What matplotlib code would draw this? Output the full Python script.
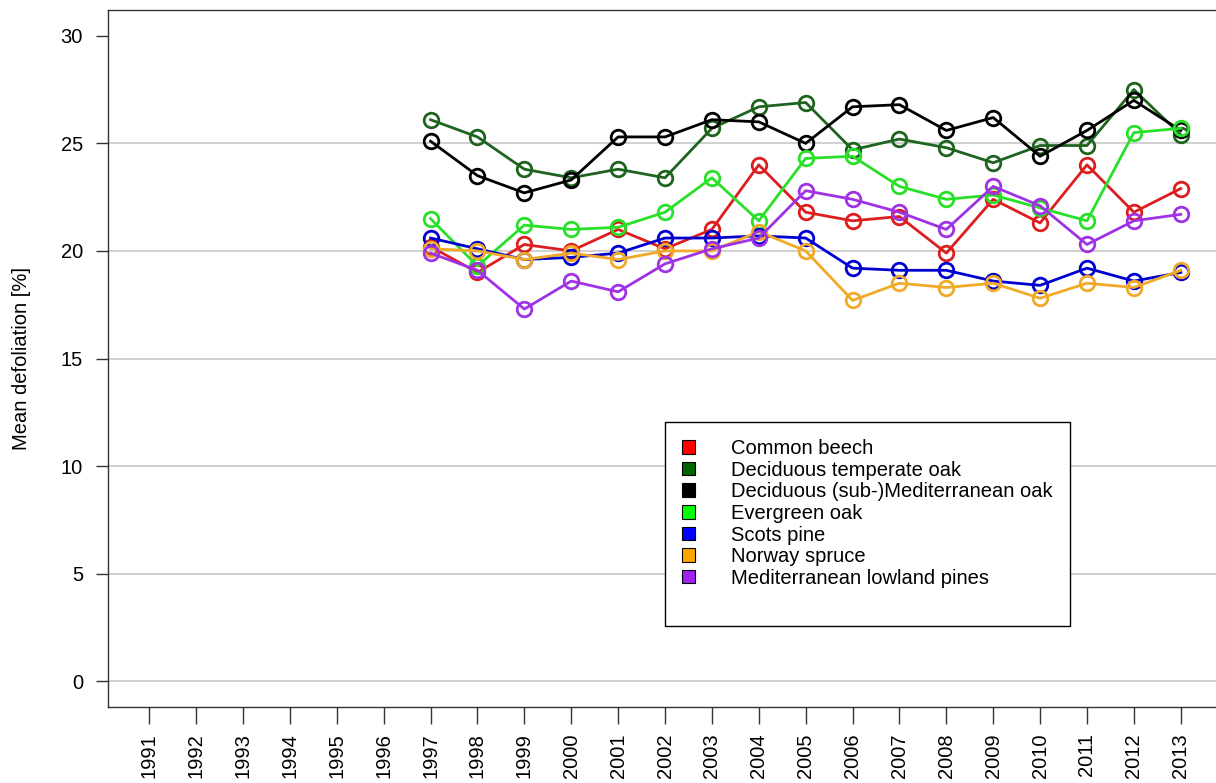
import matplotlib
matplotlib.use('Agg')
import matplotlib.pyplot as plt
from matplotlib.patches import Patch

plt.rcParams['font.family'] = ['Liberation Sans', 'DejaVu Sans']

# survey years shown on the axis and years with data
years = list(range(1991, 2014))
data_years = list(range(1997, 2014))

common_beech = [20.2, 19.0, 20.3, 20.0, 21.0, 20.1, 21.0, 24.0, 21.8, 21.4, 21.6, 19.9, 22.4, 21.3, 24.0, 21.8, 22.9]
decid_temperate_oak = [26.1, 25.3, 23.8, 23.4, 23.8, 23.4, 25.7, 26.7, 26.9, 24.7, 25.2, 24.8, 24.1, 24.9, 24.9, 27.5, 25.4]
decid_med_oak = [25.1, 23.5, 22.7, 23.3, 25.3, 25.3, 26.1, 26.0, 25.0, 26.7, 26.8, 25.6, 26.2, 24.4, 25.6, 27.0, 25.6]
evergreen_oak = [21.5, 19.3, 21.2, 21.0, 21.1, 21.8, 23.4, 21.4, 24.3, 24.4, 23.0, 22.4, 22.6, 22.0, 21.4, 25.5, 25.7]
scots_pine = [20.6, 20.1, 19.6, 19.7, 19.9, 20.6, 20.6, 20.7, 20.6, 19.2, 19.1, 19.1, 18.6, 18.4, 19.2, 18.6, 19.0]
norway_spruce = [20.1, 20.0, 19.6, 19.9, 19.6, 20.0, 20.0, 20.9, 20.0, 17.7, 18.5, 18.3, 18.5, 17.8, 18.5, 18.3, 19.1]
med_lowland_pines = [19.9, 19.1, 17.3, 18.6, 18.1, 19.4, 20.1, 20.6, 22.8, 22.4, 21.8, 21.0, 23.0, 22.1, 20.3, 21.4, 21.7]

series = [
    ('Common beech', common_beech, '#dc1e1e'),
    ('Deciduous temperate oak', decid_temperate_oak, '#1e641e'),
    ('Deciduous (sub-)Mediterranean oak', decid_med_oak, '#000000'),
    ('Evergreen oak', evergreen_oak, '#28e028'),
    ('Scots pine', scots_pine, '#0000d0'),
    ('Norway spruce', norway_spruce, '#f0aa28'),
    ('Mediterranean lowland pines', med_lowland_pines, '#a032e6'),
]
legend_colors = ['#ff0000', '#006400', '#000000', '#00ff00', '#0000ff', '#ffa500', '#a020f0']

fig = plt.figure(figsize=(12.16, 7.83), dpi=100)
ax = fig.add_axes([108 / 1216, 76 / 783, 1114 / 1216, 697 / 783])

for y in range(0, 30, 5):
    ax.axhline(y, color='#c8c8c8', lw=1.2, zorder=0)

for name, vals, col in series:
    ax.plot(data_years, vals, color=col, lw=2, marker='o', ms=10.5,
            mfc='none', mec=col, mew=2)

ax.set_xlim(1990.12, 2013.88)
ax.set_ylim(-1.2, 31.2)
ax.set_xticks(years)
ax.set_xticklabels([str(y) for y in years], rotation=90, fontsize=14.5)
ax.set_yticks(range(0, 31, 5))
ax.tick_params(axis='y', labelsize=14.5, length=9, width=1, color='#333333', pad=9)
ax.tick_params(axis='x', length=12, width=1, color='#333333', pad=7)
for s in ax.spines.values():
    s.set_color('#333333')
    s.set_linewidth(1)
ax.set_ylabel('Mean defoliation [%]', fontsize=14.5, labelpad=21)

# legend with a blank last row for extra space at the bottom of the box
handles = [Patch(facecolor=c, edgecolor='black', lw=0.8) for c in legend_colors]
labels = [s[0] for s in series]
handles.append(Patch(facecolor='none', edgecolor='none'))
labels.append(' ')
leg = ax.legend(handles, labels, loc='upper left',
                bbox_to_anchor=(0.5, 0.409), fontsize=14.5, frameon=True,
                fancybox=False, edgecolor='black', framealpha=1,
                handlelength=0.65, handleheight=0.65, handletextpad=1.8,
                labelspacing=0.13, borderpad=0.85, borderaxespad=0)
leg.get_frame().set_linewidth(1)

fig.savefig('out.png', dpi=100)
